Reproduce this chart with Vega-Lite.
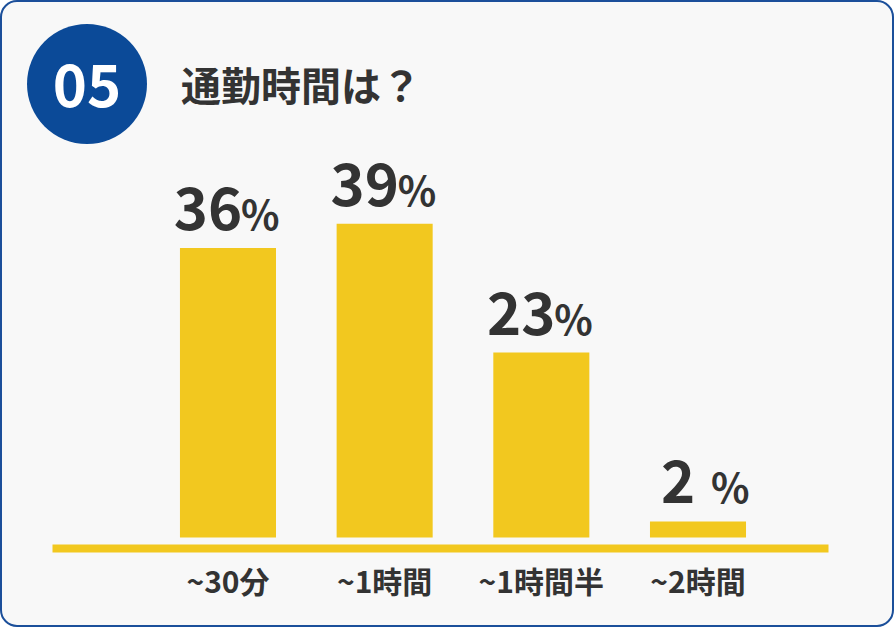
{
  "$schema": "https://vega.github.io/schema/vega-lite/v6.json",
  "width": 894,
  "height": 627,
  "autosize": {"type": "fit", "contains": "padding"},
  "padding": 1,
  "background": "#ffffff",
  "title": {
    "text": "通勤時間は？",
    "anchor": "start",
    "frame": "group",
    "orient": "top",
    "dx": 180,
    "offset": -140,
    "baseline": "alphabetic",
    "fontSize": 40,
    "fontWeight": "bold",
    "font": "Noto Sans CJK JP",
    "color": "#333333"
  },
  "data": {
    "values": [
      {"label": "~30分", "pct": 36},
      {"label": "~1時間", "pct": 39},
      {"label": "~1時間半", "pct": 23},
      {"label": "~2時間", "pct": 2}
    ]
  },
  "encoding": {
    "x": {
      "field": "label",
      "type": "nominal",
      "sort": null,
      "scale": {"range": [51, 827], "paddingInner": 0.387, "paddingOuter": 0.67, "align": 0.6095},
      "axis": {
        "title": null,
        "ticks": false,
        "labelAngle": 0,
        "labelPadding": 20,
        "labelFontSize": 30,
        "labelFontWeight": "bold",
        "labelFont": "Noto Sans CJK JP",
        "labelColor": "#333333",
        "domainColor": "#F2C81F",
        "domainWidth": 8,
        "domainCap": "butt",
        "offset": -78,
        "grid": false
      }
    },
    "y": {
      "field": "pct",
      "type": "quantitative",
      "scale": {"domain": [-11.0, 66.7], "nice": false, "zero": false},
      "axis": null
    }
  },
  "layer": [
    {
      "mark": {"type": "bar", "color": "#F2C81F"},
      "encoding": {"y2": {"datum": 0}}
    },
    {
      "mark": {"type": "text", "align": "center", "baseline": "alphabetic", "dx": -20, "dy": -18, "fontSize": 58, "fontWeight": "bold", "font": "Noto Sans CJK JP", "color": "#333333"},
      "encoding": {"text": {"field": "pct", "type": "quantitative"}}
    },
    {
      "mark": {"type": "text", "align": "left", "baseline": "alphabetic", "dx": 13, "dy": -18, "fontSize": 40, "fontWeight": "bold", "font": "Noto Sans CJK JP", "color": "#333333"},
      "encoding": {"text": {"value": "%"}}
    },
    {
      "data": {"values": [{"badge": "05"}]},
      "mark": {"type": "point", "shape": "circle", "filled": true, "opacity": 1, "size": 14400, "color": "#0B4A98", "strokeWidth": 0},
      "encoding": {"x": {"value": 86}, "y": {"value": 83}}
    },
    {
      "data": {"values": [{"badge": "05"}]},
      "mark": {"type": "text", "align": "center", "baseline": "alphabetic", "fontSize": 58, "fontWeight": "bold", "font": "Noto Sans CJK JP", "color": "#ffffff"},
      "encoding": {"x": {"value": 86}, "y": {"value": 106}, "text": {"field": "badge"}}
    }
  ],
  "config": {
    "view": {"stroke": "#1B4F9A", "strokeWidth": 2, "fill": "#F8F8F8", "cornerRadius": 16}
  }
}
